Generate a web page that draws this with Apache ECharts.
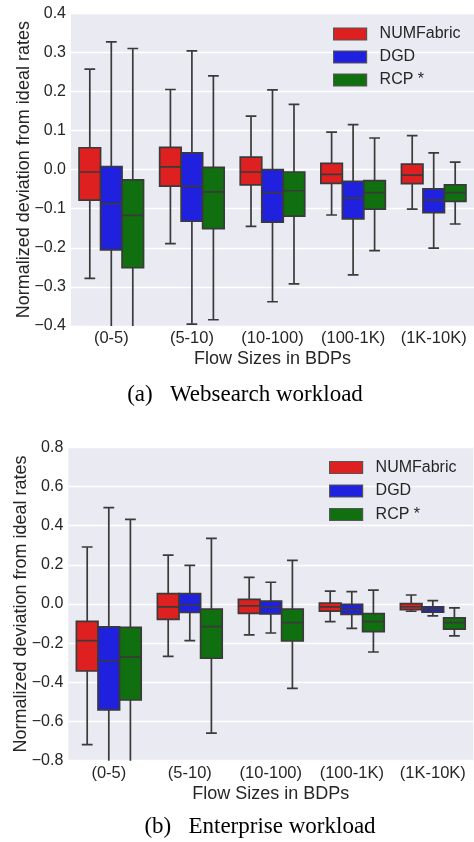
<!DOCTYPE html>
<html>
<head>
<meta charset="utf-8">
<script src="https://cdn.jsdelivr.net/npm/echarts@6/dist/echarts.min.js"></script>
<style>
html,body{margin:0;padding:0;background:#fff;}
#chart{width:474px;height:842px;}
</style>
</head>
<body>
<div id="chart"></div>
<script>
// ---- data ----
var categories = ['(0-5)', '(5-10)', '(10-100)', '(100-1K)', '(1K-10K)'];
var seriesNames = ['NUMFabric', 'DGD', 'RCP *'];
// each box: [lowWhisker, Q1, median, Q3, highWhisker]
var webNUMFabric = [[-0.278,-0.078,-0.006,0.056,0.257],[-0.189,-0.042,0.007,0.057,0.205],[-0.145,-0.039,-0.006,0.032,0.137],[-0.116,-0.035,-0.012,0.016,0.096],[-0.101,-0.036,-0.014,0.014,0.087]];
var webDGD = [[-0.5,-0.205,-0.087,0.008,0.327],[-0.395,-0.132,-0.043,0.043,0.304],[-0.338,-0.134,-0.059,0.0,0.204],[-0.269,-0.126,-0.073,-0.030,0.115],[-0.201,-0.110,-0.078,-0.049,0.043]];
var webRCP = [[-0.5,-0.251,-0.117,-0.026,0.310],[-0.384,-0.151,-0.057,0.006,0.240],[-0.292,-0.119,-0.054,-0.006,0.167],[-0.207,-0.101,-0.059,-0.028,0.081],[-0.139,-0.081,-0.059,-0.039,0.019]];
var entNUMFabric = [[-0.718,-0.342,-0.187,-0.089,0.291],[-0.267,-0.078,-0.015,0.053,0.250],[-0.158,-0.048,-0.010,0.024,0.136],[-0.090,-0.036,-0.015,0.005,0.066],[-0.037,-0.029,-0.014,0.002,0.046]];
var entDGD = [[-1.0,-0.541,-0.291,-0.117,0.492],[-0.187,-0.043,-0.003,0.053,0.197],[-0.148,-0.051,-0.017,0.015,0.111],[-0.124,-0.053,-0.029,-0.002,0.063],[-0.061,-0.041,-0.027,-0.014,0.017]];
var entRCP = [[-1.0,-0.490,-0.271,-0.119,0.432],[-0.659,-0.277,-0.116,-0.026,0.335],[-0.431,-0.189,-0.095,-0.026,0.223],[-0.245,-0.141,-0.090,-0.049,0.071],[-0.163,-0.128,-0.095,-0.071,-0.020]];
var webTicks = [-0.4, 0.4, 0.1];
var entTicks = [-0.8, 0.8, 0.2];
var captionA = '(a)\u2002 Websearch workload';
var captionB = '(b)\u2002 Enterprise workload';

// ---- style ----
var colors = ['#DF2020', '#2020DF', '#107010'];
var edge = '#3a3a3a';
var txt = '#262626';
var sans = 'Liberation Sans, Arial, sans-serif';

function makeRender(hue) {
  return function (params, api) {
    var cat = api.value(0);
    var lo = api.value(1), q1 = api.value(2), med = api.value(3), q3 = api.value(4), hi = api.value(5);
    var band = api.size([1, 0])[0];
    var w = band * 0.8 / 3;
    var cx = api.coord([cat, med])[0] + (hue - 1) * w;
    var yLo = api.coord([cat, lo])[1], yQ1 = api.coord([cat, q1])[1], yMed = api.coord([cat, med])[1];
    var yQ3 = api.coord([cat, q3])[1], yHi = api.coord([cat, hi])[1];
    var cap = w / 4;
    var ls = {stroke: edge, lineWidth: 1.7};
    return {
      type: 'group',
      children: [
        {type: 'line', shape: {x1: cx, y1: yHi, x2: cx, y2: yQ3}, style: ls},
        {type: 'line', shape: {x1: cx, y1: yQ1, x2: cx, y2: yLo}, style: ls},
        {type: 'line', shape: {x1: cx - cap, y1: yHi, x2: cx + cap, y2: yHi}, style: ls},
        {type: 'line', shape: {x1: cx - cap, y1: yLo, x2: cx + cap, y2: yLo}, style: ls},
        {type: 'rect', shape: {x: cx - w / 2, y: yQ3, width: w, height: yQ1 - yQ3},
          style: {fill: colors[hue], stroke: edge, lineWidth: 1.7}},
        {type: 'line', shape: {x1: cx - w / 2, y1: yMed, x2: cx + w / 2, y2: yMed}, style: ls}
      ]
    };
  };
}

function toData(arr) {
  return arr.map(function (b, i) { return [i, b[0], b[1], b[2], b[3], b[4]]; });
}

function yAxisFor(idx, ticks) {
  return {
    type: 'value', gridIndex: idx, min: ticks[0], max: ticks[1], interval: ticks[2],
    name: 'Normalized deviation from ideal rates', nameLocation: 'middle', nameGap: 38,
    nameMoveOverlap: false,
    nameTextStyle: {fontSize: 18, color: txt, fontFamily: sans},
    axisLine: {show: false}, axisTick: {show: false},
    axisLabel: {fontSize: 16, color: txt, fontFamily: sans, margin: 5,
      formatter: function (v) { var s = Math.abs(v).toFixed(1); return v < -1e-9 ? '\u2212' + s : s; }},
    splitLine: {show: true, lineStyle: {color: '#ffffff', width: 1.3}}
  };
}
function xAxisFor(idx) {
  return {
    type: 'category', gridIndex: idx, data: categories,
    name: 'Flow Sizes in BDPs', nameLocation: 'middle', nameGap: 24,
    nameMoveOverlap: false,
    nameTextStyle: {fontSize: 18, color: txt, fontFamily: sans},
    axisLine: {show: false}, axisTick: {show: false},
    axisLabel: {fontSize: 16.5, color: txt, fontFamily: sans, margin: 4, interval: 0},
    splitLine: {show: false}
  };
}
function legendFor(left, top, gap) {
  return {
    orient: 'vertical', left: left, top: top, padding: 0, itemGap: gap,
    itemWidth: 33, itemHeight: 12, icon: 'rect',
    textStyle: {fontSize: 16, color: txt, fontFamily: sans, padding: [0, 0, 0, 8]},
    data: seriesNames.map(function (n, i) {
      return {name: n, itemStyle: {color: colors[i], borderColor: '#555', borderWidth: 1.2}};
    })
  };
}

var groups = [[webNUMFabric, webDGD, webRCP], [entNUMFabric, entDGD, entRCP]];
var series = [];
groups.forEach(function (g, gi) {
  g.forEach(function (arr, hue) {
    series.push({
      type: 'custom', name: seriesNames[hue], xAxisIndex: gi, yAxisIndex: gi,
      renderItem: makeRender(hue), clip: true,
      itemStyle: {color: colors[hue]},
      encode: {x: 0, y: [1, 2, 3, 4, 5]},
      data: toData(arr)
    });
  });
});

var chart = echarts.init(document.getElementById('chart'), null, {renderer: 'canvas'});
chart.setOption({
  animation: false,
  backgroundColor: '#ffffff',
  grid: [
    {left: 71, top: 13.3, width: 406, height: 312.7, show: true, backgroundColor: '#EAEAF2', borderWidth: 0},
    {left: 68.3, top: 447.3, width: 405, height: 313.4, show: true, backgroundColor: '#EAEAF2', borderWidth: 0}
  ],
  xAxis: [xAxisFor(0), xAxisFor(1)],
  yAxis: [yAxisFor(0, webTicks), yAxisFor(1, entTicks)],
  legend: [legendFor(333, 26, 7), legendFor(329, 459.5, 7.5)],
  series: series,
  graphic: [
    {type: 'text', x: 245, y: 395, style: {text: captionA, fill: '#000', font: '23px "Liberation Serif", "Times New Roman", serif', textAlign: 'center', textVerticalAlign: 'middle'}},
    {type: 'text', x: 260, y: 827, style: {text: captionB, fill: '#000', font: '23px "Liberation Serif", "Times New Roman", serif', textAlign: 'center', textVerticalAlign: 'middle'}}
  ]
});
</script>
</body>
</html>
